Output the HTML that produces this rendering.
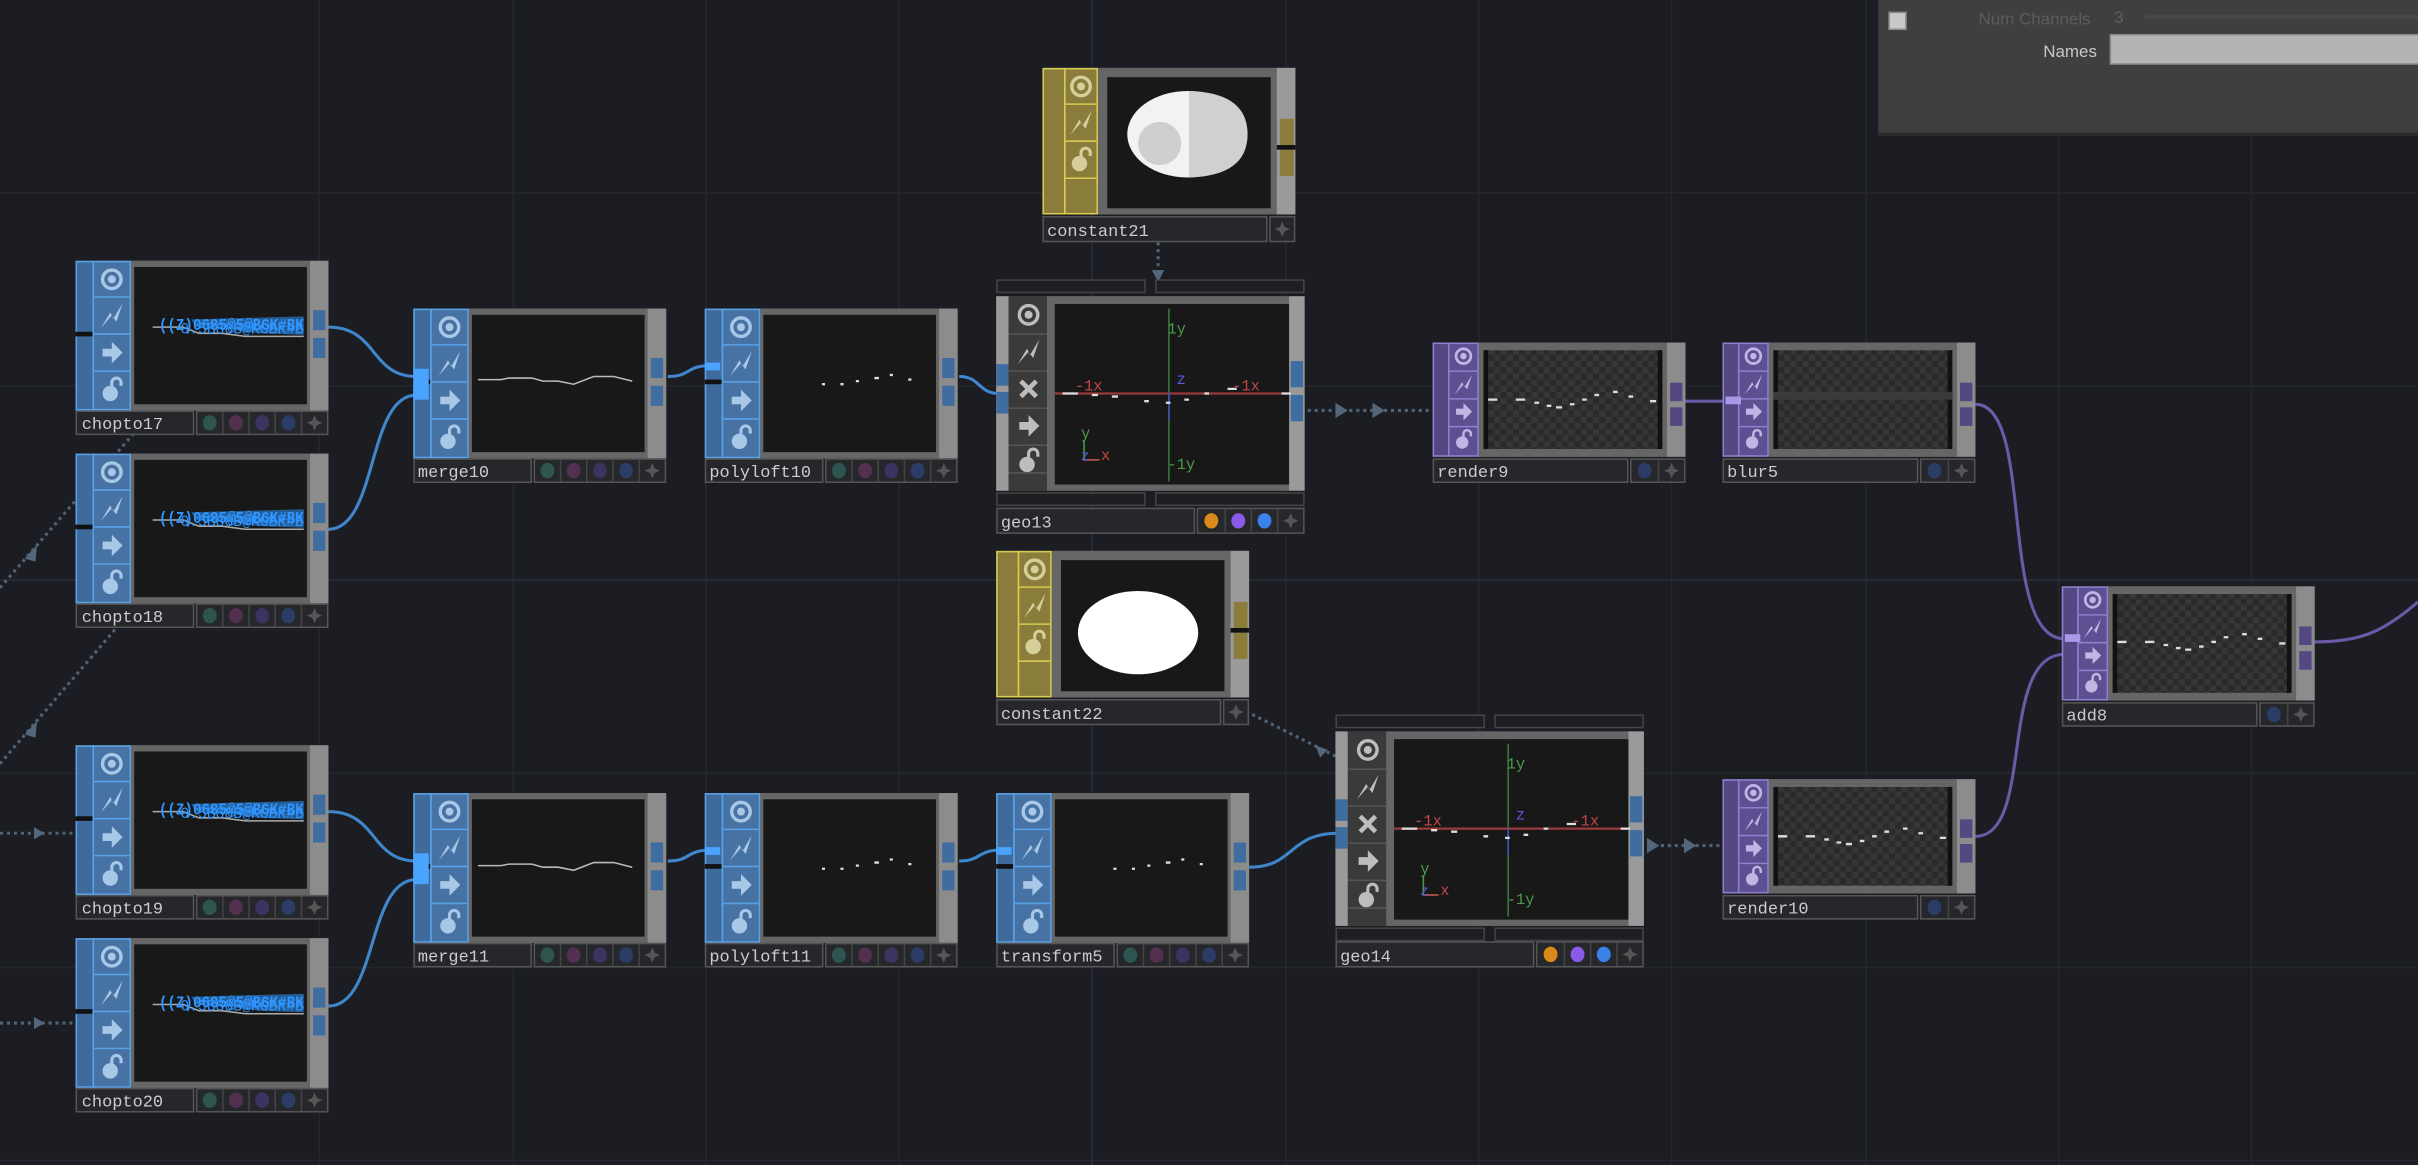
<!DOCTYPE html>
<html><head><meta charset="utf-8"><style>
html,body{margin:0;padding:0;background:#1c1d22;overflow:hidden}
svg{display:block}
text{font-family:"Liberation Mono",monospace}
</style></head><body>
<svg width="2418" height="1165" viewBox="0 0 1568 755" preserveAspectRatio="none" xmlns="http://www.w3.org/2000/svg">
<defs>
<pattern id="chk" width="8" height="8" patternUnits="userSpaceOnUse">
<rect width="8" height="8" fill="#2a2a2a"/><rect width="4" height="4" fill="#363636"/><rect x="4" y="4" width="4" height="4" fill="#363636"/>
</pattern>
<g id="it"><circle r="6" fill="none" stroke="currentColor" stroke-width="2.2"/><circle r="2.6" fill="currentColor"/></g>
<g id="il"><path d="M-7,8 L-1,-2 L1,2 L7,-8 L3,4 L0,0 Z" fill="currentColor"/></g>
<g id="ia"><path d="M-6,-2.5 H0 V-7 L7,0 L0,7 V2.5 H-6 Z" fill="currentColor"/></g>
<g id="ik"><circle cx="-1" cy="3" r="5" fill="currentColor"/><path d="M0,-1 V-4 A3,3 0 0 1 6,-4 V-2" fill="none" stroke="currentColor" stroke-width="2"/></g>
<g id="ix"><path d="M-5,-5 L5,5 M5,-5 L-5,5" stroke="currentColor" stroke-width="3"/></g>

<g id="sB">
<rect width="164" height="97" fill="#747474"/>
<rect x="0.5" y="0.5" width="11" height="96" fill="#3e6b9c" stroke="#5aa2e8"/>
<rect x="0" y="46" width="11" height="3" fill="#111"/>
<rect x="11.5" y="0.5" width="24" height="96" fill="#4672a4" stroke="#5aa2e8"/>
<path d="M12,23.5H35M12,47.5H35M12,71.5H35" stroke="#5aa2e8"/>
<g color="#a9c7e6"><use href="#it" x="23.5" y="12"/><use href="#il" x="23.5" y="35.5"/><use href="#ia" x="23.5" y="59.5"/><use href="#ik" x="23.5" y="83"/></g>
<rect x="36" y="0" width="116" height="97" fill="#666"/>
<rect x="38" y="4" width="112" height="89" fill="#181818"/>
<rect x="152" y="0" width="12" height="97" fill="#8c8c8c"/>
<rect x="154" y="32" width="8" height="13" fill="#3f6d9f"/><rect x="154" y="50" width="8" height="13" fill="#3f6d9f"/>
</g>
<g id="lB">
<rect x="0.5" y="0.5" width="76" height="15" fill="#26272b" stroke="#555"/>
<rect x="78.5" y="0.5" width="85" height="15" fill="#26272b" stroke="#555"/>
<path d="M95.5,1V15M112.5,1V15M129.5,1V15M146.5,1V15" stroke="#444"/>
<ellipse cx="87" cy="8" rx="4.5" ry="5" fill="#2e5450"/><ellipse cx="104" cy="8" rx="4.5" ry="5" fill="#53304f"/>
<ellipse cx="121" cy="8" rx="4.5" ry="5" fill="#3d3360"/><ellipse cx="138" cy="8" rx="4.5" ry="5" fill="#2b3d66"/>
<path d="M155,3 L156.5,6.5 L160,8 L156.5,9.5 L155,13 L153.5,9.5 L150,8 L153.5,6.5Z" fill="#555"/>
</g>
<g id="sP">
<rect width="164" height="74" fill="#747474"/>
<rect x="0.5" y="0.5" width="10" height="73" fill="#544782" stroke="#8f7fd0"/>
<rect x="10.5" y="0.5" width="19" height="73" fill="#5e4f92" stroke="#8f7fd0"/>
<path d="M11,18.5H30M11,36.5H30M11,54.5H30" stroke="#8f7fd0"/>
<g color="#c0b6e4" transform="translate(20,0) scale(0.8)"><use href="#it" x="0" y="11"/><use href="#il" x="0" y="34"/><use href="#ia" x="0" y="56"/><use href="#ik" x="0" y="78"/></g>
<rect x="30" y="0" width="122" height="74" fill="#666"/>
<rect x="33" y="5" width="116" height="64" fill="url(#chk)"/>
<rect x="33" y="5" width="3" height="64" fill="#111"/><rect x="146" y="5" width="3" height="64" fill="#111"/>
<rect x="152" y="0" width="12" height="74" fill="#8c8c8c"/>
<rect x="154" y="26" width="8" height="12" fill="#544782"/><rect x="154" y="42" width="8" height="12" fill="#544782"/>
</g>
<g id="lP">
<rect x="0.5" y="0.5" width="126" height="15" fill="#26272b" stroke="#555"/>
<rect x="128.5" y="0.5" width="35" height="15" fill="#26272b" stroke="#555"/>
<path d="M146.5,1V15" stroke="#444"/>
<ellipse cx="137.5" cy="8" rx="4.5" ry="5" fill="#2b3d66"/>
<path d="M155,3 L156.5,6.5 L160,8 L156.5,9.5 L155,13 L153.5,9.5 L150,8 L153.5,6.5Z" fill="#555"/>
</g>
<g id="sG">
<rect x="0.5" y="-10.5" width="96" height="8" fill="#1e1f23" stroke="#444"/><rect x="103.5" y="-10.5" width="96" height="8" fill="#1e1f23" stroke="#444"/>
<rect x="0.5" y="127.5" width="96" height="8" fill="#1e1f23" stroke="#444"/><rect x="103.5" y="127.5" width="96" height="8" fill="#1e1f23" stroke="#444"/>
<rect width="200" height="126" fill="#777"/>
<rect x="0" y="0" width="8" height="126" fill="#9a9a9a"/>
<rect x="0" y="44" width="8" height="14" fill="#3f6d9f"/><rect x="0" y="62" width="8" height="14" fill="#3f6d9f"/>
<rect x="8" y="0" width="25" height="126" fill="#3a3a3a"/>
<path d="M8,24.5H33M8,48.5H33M8,72.5H33M8,96.5H33M8,114.5H33" stroke="#555"/>
<g color="#bdbdbd"><use href="#it" x="21" y="12"/><use href="#il" x="21" y="36"/><use href="#ix" x="21" y="60"/><use href="#ia" x="21" y="84"/><use href="#ik" x="21" y="106"/></g>
<rect x="33" y="0" width="157" height="126" fill="#666"/>
<rect x="38" y="5" width="152" height="117" fill="#181818"/>
<rect x="190" y="0" width="10" height="126" fill="#9a9a9a"/>
<rect x="191" y="42" width="8" height="17" fill="#3f6d9f"/><rect x="191" y="64" width="8" height="17" fill="#3f6d9f"/>
<line x1="112" y1="8" x2="112" y2="120" stroke="#3a7a3a"/>
<line x1="38" y1="63" x2="189" y2="63" stroke="#9a3a3a" stroke-width="1.5"/>
<line x1="112" y1="62" x2="112" y2="80" stroke="#4050c0"/>
<path d="M43,63h10 M62,64h4 M75,65h4 M96,68h3 M110,69h3 M122,67h3 M135,63h3 M150,60h6 M185,63h6" stroke="#ddd" stroke-width="1.5"/>
<text x="111" y="24" font-size="10" fill="#4a9a4a">1y</text>
<text x="111" y="112" font-size="10" fill="#4a9a4a">-1y</text>
<text x="51" y="61" font-size="10" fill="#c04848">-1x</text>
<text x="153" y="61" font-size="10" fill="#c04848">-1x</text>
<text x="117" y="57" font-size="10" fill="#5a5ae0">z</text>
<text x="55" y="92" font-size="10" fill="#4a9a4a">y</text>
<path d="M57,93V106H66" stroke="#4a9a4a" fill="none"/><line x1="57" y1="106" x2="67" y2="106" stroke="#c04848"/>
<text x="55" y="106" font-size="9" fill="#5a5ae0">z</text><text x="68" y="106" font-size="10" fill="#c04848">x</text>
</g>
<g id="lG">
<rect x="0.5" y="0.5" width="128" height="16" fill="#26272b" stroke="#555"/>
<rect x="130.5" y="0.5" width="69" height="16" fill="#26272b" stroke="#555"/>
<path d="M148.5,1V16M165.5,1V16M182.5,1V16" stroke="#444"/>
<ellipse cx="139.5" cy="8.5" rx="4.5" ry="5" fill="#d98a1a"/><ellipse cx="157" cy="8.5" rx="4.5" ry="5" fill="#8a5ae8"/><ellipse cx="174" cy="8.5" rx="4.5" ry="5" fill="#3a82e8"/>
<path d="M191,3.5 L192.5,7 L196,8.5 L192.5,10 L191,13.5 L189.5,10 L186,8.5 L189.5,7Z" fill="#555"/>
</g>
<g id="sY">
<rect width="164" height="95" fill="#777"/>
<rect x="0.5" y="0.5" width="14" height="94" fill="#8a7d3c" stroke="#d8cc52"/>
<rect x="14.5" y="0.5" width="21" height="94" fill="#8a7d3c" stroke="#d8cc52"/>
<path d="M15,23.5H35M15,47.5H35M15,71.5H35" stroke="#d8cc52"/>
<g color="#d6cf9c"><use href="#it" x="25" y="12"/><use href="#il" x="25" y="35.5"/><use href="#ik" x="25" y="59"/></g>
<rect x="36" y="0" width="116" height="95" fill="#666"/>
<rect x="42" y="6" width="106" height="85" fill="#181818"/>
<rect x="152" y="0" width="12" height="95" fill="#9a9a9a"/>
<rect x="154" y="33" width="9" height="17" fill="#8a7d3c"/><rect x="154" y="53" width="9" height="17" fill="#8a7d3c"/>
<rect x="152" y="50" width="12" height="3" fill="#111"/>
</g>
<g id="lY">
<rect x="0.5" y="0.5" width="145" height="16" fill="#26272b" stroke="#555"/>
<rect x="147.5" y="0.5" width="16" height="16" fill="#26272b" stroke="#555"/>
<path d="M155.5,3.5 L157,7 L160.5,8.5 L157,10 L155.5,13.5 L154,10 L150.5,8.5 L154,7Z" fill="#555"/>
</g>
<g id="chopv">
<path d="M50,43H70L80,47H95L110,49H148" stroke="#aaa" fill="none"/>
<path d="M75,38 L148,36 L148,48 L120,47 L95,44 L78,43Z" fill="#2f95ff" opacity=".55"/>
<text x="54" y="45" font-size="11" font-weight="bold" fill="#2f95ff" textLength="94" lengthAdjust="spacingAndGlyphs">((Z)0685@5@BGK#BK</text>
<text x="68" y="47" font-size="10" fill="#2f95ff" textLength="80" lengthAdjust="spacingAndGlyphs">0.5B88B@KGBK#B</text>
</g>
</defs>

<rect width="1568" height="755" fill="#1c1d22"/>
<g stroke="#25272e" stroke-width="1">
<path d="M207,0V755M333,0V755M458,0V755M583,0V755M708,0V755M834,0V755M959,0V755M1084,0V755M1210,0V755M1335,0V755M1460,0V755"/>
<path d="M0,125H1568M0,250H1568M0,376H1568M0,501H1568M0,627H1568M0,752H1568"/>
</g>
<path d="M708,0V755" stroke="#2a2d3a"/><path d="M0,376H1568" stroke="#292b36"/>

<g stroke="#4f6378" stroke-width="2" stroke-dasharray="2 2.5" fill="none">
<path d="M0,381L110,254"/>
<path d="M0,495L120,355"/>
<path d="M0,540H50"/><path d="M0,663H50"/>
<path d="M848,266H929"/><path d="M1068,548H1117"/>
<path d="M751,157V182"/><path d="M808,461L866,490"/>
</g>
<g fill="#52667c">
<path d="M16,362l8,-9l-1,11z"/><path d="M16,476l8,-9l-1,11z"/>
<path d="M22,536l7,4l-7,4z"/><path d="M22,659l7,4l-7,4z"/>
<path d="M866,261l8,5l-8,5z"/><path d="M890,261l8,5l-8,5z"/>
<path d="M1068,543l8,5l-8,5z"/><path d="M1092,543l8,5l-8,5z"/>
<path d="M747,175l4,8l4,-8z"/><path d="M853,483l8,3l-5,5z"/>
</g>

<g stroke="#3f86cc" stroke-width="2" fill="none">
<path d="M213,212C245,212 240,244 270,244"/>
<path d="M213,343C245,343 238,256 270,256"/>
<path d="M433,244C448,244 445,237 460,237"/>
<path d="M622,244C636,244 634,255 648,255"/>
<path d="M213,526C245,526 240,558 270,558"/>
<path d="M213,652C245,652 238,570 270,570"/>
<path d="M433,558C448,558 445,551 460,551"/>
<path d="M622,558C636,558 634,551 648,551"/>
<path d="M810,562C840,562 835,540 868,540"/>
</g>
<g stroke="#6a5aa8" stroke-width="2" fill="none">
<path d="M1093,260H1119"/>
<path d="M1281,262C1320,262 1295,414 1339,414"/>
<path d="M1281,542C1320,542 1295,424 1339,424"/>
<path d="M1501,416C1530,416 1545,410 1568,390"/>
</g>

<use href="#sB" x="49" y="169"/><use href="#chopv" x="49" y="169"/><use href="#lB" x="49" y="266"/><text x="53" y="278" font-size="11" fill="#ccc">chopto17</text>
<use href="#sB" x="49" y="294"/><use href="#chopv" x="49" y="294"/><use href="#lB" x="49" y="391"/><text x="53" y="403" font-size="11" fill="#ccc">chopto18</text>
<use href="#sB" x="49" y="483"/><use href="#chopv" x="49" y="483"/><use href="#lB" x="49" y="580"/><text x="53" y="592" font-size="11" fill="#ccc">chopto19</text>
<use href="#sB" x="49" y="608"/><use href="#chopv" x="49" y="608"/><use href="#lB" x="49" y="705"/><text x="53" y="717" font-size="11" fill="#ccc">chopto20</text>

<use href="#sB" x="268" y="200"/><use href="#lB" x="268" y="297"/><text x="271" y="309" font-size="11" fill="#ccc">merge10</text>
<path d="M310,246H325L330,245H345L352,247H362L372,249L385,244H398L410,247" stroke="#bbb" fill="none"/>
<use href="#sB" x="457" y="200"/><use href="#lB" x="457" y="297"/><text x="460" y="309" font-size="11" fill="#ccc">polyloft10</text>
<path d="M533,249h2M545,249h2M555,247h2M567,245h3M577,243h2M589,246h2" stroke="#ddd" stroke-width="1.5"/>
<use href="#sB" x="268" y="514"/><use href="#lB" x="268" y="611"/><text x="271" y="623" font-size="11" fill="#ccc">merge11</text>
<path d="M310,561H325L330,560H345L352,562H362L372,564L385,559H398L410,562" stroke="#bbb" fill="none"/>
<use href="#sB" x="457" y="514"/><use href="#lB" x="457" y="611"/><text x="460" y="623" font-size="11" fill="#ccc">polyloft11</text>
<path d="M533,563h2M545,563h2M555,561h2M567,559h3M577,557h2M589,560h2" stroke="#ddd" stroke-width="1.5"/>
<use href="#sB" x="646" y="514"/><use href="#lB" x="646" y="611"/><text x="649" y="623" font-size="11" fill="#ccc">transform5</text>
<path d="M722,563h2M734,563h2M744,561h2M756,559h3M766,557h2M778,560h2" stroke="#ddd" stroke-width="1.5"/>
<g fill="#4aa3ff"><rect x="268" y="239" width="10" height="20"/><rect x="268" y="553" width="10" height="20"/><rect x="457" y="235" width="10" height="5"/><rect x="457" y="549" width="10" height="5"/><rect x="646" y="549" width="10" height="5"/></g>

<use href="#sG" x="646" y="192"/><use href="#lG" x="646" y="329"/><text x="649" y="342" font-size="11" fill="#ccc">geo13</text>
<use href="#sG" x="866" y="474"/><use href="#lG" x="866" y="610"/><text x="869" y="623" font-size="11" fill="#ccc">geo14</text>

<use href="#sY" x="676" y="44"/><use href="#lY" x="676" y="140"/><text x="679" y="153" font-size="11" fill="#ccc">constant21</text>
<ellipse cx="770" cy="87" rx="39" ry="28" fill="#f2f2f2"/>
<path d="M771,59 Q809,60 809,87 Q809,114 771,115Z" fill="#d0d0d0"/>
<circle cx="752" cy="93" r="14" fill="#cfcfcf"/>
<use href="#sY" x="646" y="357"/><use href="#lY" x="646" y="453"/><text x="649" y="466" font-size="11" fill="#ccc">constant22</text>
<ellipse cx="738" cy="410" rx="39" ry="27" fill="#fff"/>

<use href="#sP" x="929" y="222"/><use href="#lP" x="929" y="297"/><text x="932" y="309" font-size="11" fill="#ccc">render9</text>
<path d="M965,259h6M983,259h6M995,261h3M1003,263h3M1009,264h4M1018,262h3M1026,259h3M1034,256h3M1046,254h3M1056,257h3M1070,260h4" stroke="#ddd" stroke-width="1.5"/>
<use href="#sP" x="1117" y="222"/><use href="#lP" x="1117" y="297"/><text x="1120" y="309" font-size="11" fill="#ccc">blur5</text>
<rect x="1150" y="254" width="116" height="5" fill="#3a3a3a"/>
<use href="#sP" x="1117" y="505"/><use href="#lP" x="1117" y="580"/><text x="1120" y="592" font-size="11" fill="#ccc">render10</text>
<path d="M1153,542h6M1171,542h6M1183,544h3M1191,546h3M1197,547h4M1206,545h3M1214,542h3M1222,539h3M1234,537h3M1244,540h3M1258,543h4" stroke="#ddd" stroke-width="1.5"/>
<use href="#sP" x="1337" y="380"/><use href="#lP" x="1337" y="455"/><text x="1340" y="467" font-size="11" fill="#ccc">add8</text>
<path d="M1373,416h6M1391,416h6M1403,418h3M1411,420h3M1417,421h4M1426,419h3M1434,416h3M1442,413h3M1454,411h3M1464,414h3M1478,417h4" stroke="#ddd" stroke-width="1.5"/>
<rect x="1119" y="257" width="10" height="5" fill="#a898e8"/>
<rect x="1339" y="411" width="10" height="5" fill="#a898e8"/>

<rect x="1218" y="0" width="350" height="88" fill="#3f3f3f"/>
<rect x="1218" y="86" width="350" height="2" fill="#2a2a2a"/>
<rect x="1225" y="8" width="11" height="11" fill="#c8c8c8" stroke="#888"/>
<text x="1283" y="16" font-size="11" fill="#5c5c5c" style="font-family:'Liberation Sans',sans-serif">Num Channels</text>
<text x="1371" y="15" font-size="11" fill="#5c5c5c" style="font-family:'Liberation Sans',sans-serif">3</text>
<line x1="1391" y1="11" x2="1568" y2="11" stroke="#4a4a4a" stroke-width="2"/>
<text x="1325" y="37" font-size="11" fill="#c8c8c8" style="font-family:'Liberation Sans',sans-serif">Names</text>
<rect x="1368.5" y="22.5" width="200" height="19" fill="#b4b4b4" stroke="#888"/>
</svg>
</body></html>
